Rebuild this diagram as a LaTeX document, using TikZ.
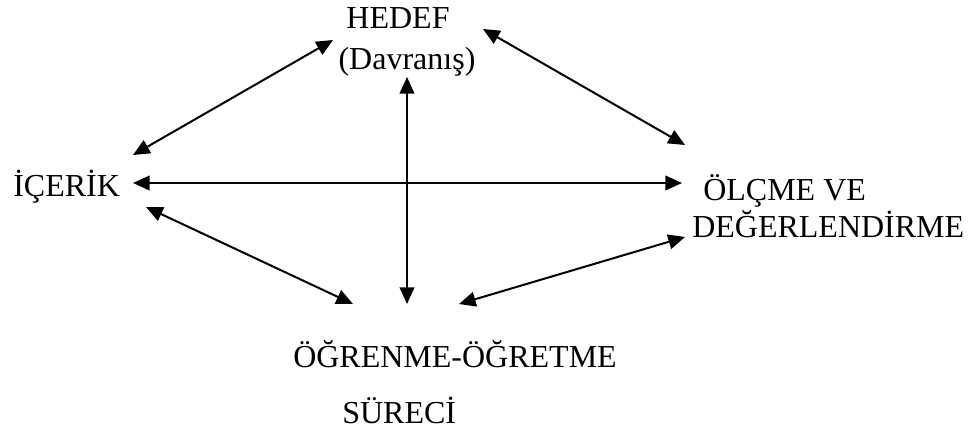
\documentclass[tikz,border=0pt]{standalone}
\usepackage{fontspec}
\setmainfont{Liberation Serif}
\usetikzlibrary{arrows.meta}
\begin{document}
\begin{tikzpicture}[x=0.75pt,y=-0.75pt,
  lbl/.style={inner sep=0pt,font=\fontsize{24}{28}\selectfont},
  conn/.style={line width=1.5pt,{Triangle[length=12.5pt,width=11pt]}-{Triangle[length=12.5pt,width=11pt]}}]
\useasboundingbox (0,0) rectangle (970,431);
\node[lbl,anchor=base] (hedef) at (398,29) {HEDEF};
\node[lbl,anchor=base] (davr) at (407,70) {(Davranış)};
\node[lbl,anchor=base west] (icerik) at (13,196) {İÇERİK};
\node[lbl,anchor=base west] (olcme) at (703,200) {ÖLÇME VE};
\node[lbl,anchor=base west] (deger) at (692,237) {DEĞERLENDİRME};
\node[lbl,anchor=base west] (ogrenme) at (293,367) {ÖĞRENME-ÖĞRETME};
\node[lbl,anchor=base west] (surec) at (342,423) {SÜRECİ};
\coordinate (a1) at (133,155); \coordinate (b1) at (333,40);
\coordinate (a2) at (483,29);  \coordinate (b2) at (685,145);
\coordinate (a3) at (133,183); \coordinate (b3) at (682,183);
\coordinate (a4) at (407,77);  \coordinate (b4) at (407,304);
\coordinate (a5) at (146,207); \coordinate (b5) at (353,304);
\coordinate (a6) at (459,304); \coordinate (b6) at (685,237);
\draw[conn] (a1) -- (b1);
\draw[conn] (a2) -- (b2);
\draw[conn] (a3) -- (b3);
\draw[conn] (a4) -- (b4);
\draw[conn] (a5) -- (b5);
\draw[conn] (a6) -- (b6);
\end{tikzpicture}
\end{document}
